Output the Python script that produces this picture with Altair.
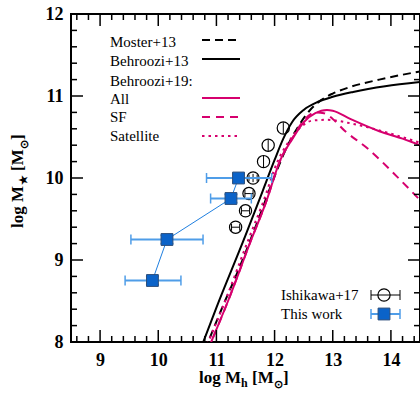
import altair as alt
import pandas as pd

# ---------------- data ----------------
# Behroozi+13 (solid black)
b13_x = [10.72, 11.0, 11.5, 11.8, 12.0, 12.15, 12.3, 12.5, 12.75, 13.0, 13.35, 13.9, 14.5]
b13_y = [7.9, 8.42, 9.3, 9.85, 10.22, 10.48, 10.68, 10.83, 10.93, 10.99, 11.05, 11.12, 11.17]
# Moster+13 (dashed black)
m13_x = [10.8, 11.1, 11.45, 11.75, 12.0, 12.2, 12.4, 12.6, 12.8, 13.0, 13.3, 13.8, 14.5]
m13_y = [7.9, 8.42, 9.0, 9.55, 10.02, 10.36, 10.62, 10.82, 10.95, 11.03, 11.11, 11.2, 11.3]
# Behroozi+19 All (solid magenta)
all_x = [10.85, 11.2, 11.6, 11.85, 12.1, 12.3, 12.5, 12.7, 12.9, 13.0, 13.3, 13.8, 14.2, 14.5]
all_y = [7.9, 8.5, 9.25, 9.7, 10.22, 10.47, 10.68, 10.79, 10.83, 10.82, 10.72, 10.57, 10.48, 10.40]
# Behroozi+19 SF (dashed magenta)
sf_x = [10.85, 11.2, 11.6, 11.85, 12.1, 12.3, 12.5, 12.7, 12.85, 13.0, 13.2, 13.6, 14.1, 14.5]
sf_y = [7.9, 8.5, 9.25, 9.7, 10.22, 10.48, 10.7, 10.8, 10.79, 10.72, 10.58, 10.36, 10.02, 9.73]
# Behroozi+19 Satellite (dotted magenta)
sat_x = [10.8, 11.15, 11.55, 11.8, 12.05, 12.25, 12.45, 12.65, 12.9, 13.35, 13.9, 14.5]
sat_y = [7.9, 8.5, 9.25, 9.7, 10.2, 10.45, 10.62, 10.7, 10.71, 10.66, 10.56, 10.43]

# This work (blue squares)
tw_x = [9.9, 10.15, 11.25, 11.38]
tw_y = [8.75, 9.25, 9.75, 10.0]
tw_xlo = [9.43, 9.53, 10.9, 10.83]
tw_xhi = [10.39, 10.77, 11.6, 11.95]
tw_yerr = [0.05, 0.05, 0.05, 0.05]

# Ishikawa+17 (open circles)
ish_x = [11.33, 11.50, 11.56, 11.63, 11.81, 11.89, 12.15]
ish_y = [9.40, 9.60, 9.81, 10.0, 10.2, 10.4, 10.61]
ish_xerr = [0.07, 0.07, 0.07, 0.07, 0.0, 0.0, 0.0]
ish_yerr = [0.0, 0.0, 0.0, 0.05, 0.07, 0.07, 0.07]

x_major = [9, 10, 11, 12, 13, 14]
y_major = [8, 9, 10, 11, 12]
x_minor = [8.6, 8.8, 9.2, 9.4, 9.6, 9.8, 10.2, 10.4, 10.6, 10.8, 11.2, 11.4, 11.6, 11.8,
           12.2, 12.4, 12.6, 12.8, 13.2, 13.4, 13.6, 13.8, 14.2, 14.4]
y_minor = [8.2, 8.4, 8.6, 8.8, 9.2, 9.4, 9.6, 9.8, 10.2, 10.4, 10.6, 10.8, 11.2, 11.4, 11.6, 11.8]

# ---------------- style ----------------
W, H = 349, 328
FONT = "Liberation Serif"
MAG = "#d6006e"
BLUE = "#0b63c9"
BLUE_ERR = "#4f9de8"

xs = alt.Scale(domain=[8.5, 14.5], nice=False, zero=False)
ys = alt.Scale(domain=[8, 12], nice=False, zero=False)

xaxis = alt.Axis(values=x_major, ticks=False, domain=False, grid=False,
                 labelFont=FONT, labelFontWeight="bold", labelFontSize=18, labelColor="black",
                 labelPadding=9, title="")
yaxis = alt.Axis(values=y_major, ticks=False, domain=False, grid=False,
                 labelFont=FONT, labelFontWeight="bold", labelFontSize=18, labelColor="black",
                 labelPadding=8, title="")

X = lambda f: alt.X(f, scale=xs, axis=xaxis)
Y = lambda f: alt.Y(f, scale=ys, axis=yaxis)


def curve(xv, yv, color, dash=None):
    df = pd.DataFrame({"x": xv, "y": yv})
    kw = dict(color=color, strokeWidth=2, clip=True, interpolate="monotone")
    if dash:
        kw["strokeDash"] = dash
    return alt.Chart(df).mark_line(**kw).encode(x=X("x:Q"), y=Y("y:Q"), order="x:Q")


layers = []
layers.append(curve(b13_x, b13_y, "black"))
layers.append(curve(m13_x, m13_y, "black", dash=[8, 5]))
layers.append(curve(sat_x, sat_y, MAG, dash=[2.5, 4]))
layers.append(curve(sf_x, sf_y, MAG, dash=[8, 6]))
layers.append(curve(all_x, all_y, MAG))


# tick marks (inward, all four sides)
def xticks(vals, length):
    df = pd.DataFrame({"x": vals})
    bottom = alt.Chart(df).mark_rule(color="black", strokeWidth=1.5).encode(
        x=X("x:Q"), y=alt.value(H), y2=alt.value(H - length))
    top = alt.Chart(df).mark_rule(color="black", strokeWidth=1.5).encode(
        x=X("x:Q"), y=alt.value(0), y2=alt.value(length))
    return [bottom, top]


def yticks(vals, length):
    df = pd.DataFrame({"y": vals})
    left = alt.Chart(df).mark_rule(color="black", strokeWidth=1.5).encode(
        y=Y("y:Q"), x=alt.value(0), x2=alt.value(length))
    right = alt.Chart(df).mark_rule(color="black", strokeWidth=1.5).encode(
        y=Y("y:Q"), x=alt.value(W), x2=alt.value(W - length))
    return [left, right]


layers += xticks(x_major, 12) + xticks(x_minor, 6) + yticks(y_major, 12) + yticks(y_minor, 6)

# Ishikawa+17
ish = pd.DataFrame({"x": ish_x, "y": ish_y,
                    "xlo": [a - b for a, b in zip(ish_x, ish_xerr)],
                    "xhi": [a + b for a, b in zip(ish_x, ish_xerr)],
                    "ylo": [a - b for a, b in zip(ish_y, ish_yerr)],
                    "yhi": [a + b for a, b in zip(ish_y, ish_yerr)]})
ishx = ish[ish["xhi"] > ish["xlo"]]
ishy = ish[ish["yhi"] > ish["ylo"]]
layers.append(alt.Chart(ish).mark_point(shape="circle", size=150, filled=False, color="black",
                                        strokeWidth=1.2, opacity=1).encode(x=X("x:Q"), y=Y("y:Q")))
layers.append(alt.Chart(ishx).mark_rule(color="black", strokeWidth=1).encode(x=X("xlo:Q"), x2="xhi:Q", y=Y("y:Q")))
for f in ["xlo:Q", "xhi:Q"]:
    layers.append(alt.Chart(ishx).mark_tick(orient="vertical", size=7, thickness=1, color="black",
                                            opacity=1).encode(x=X(f), y=Y("y:Q")))
layers.append(alt.Chart(ishy).mark_rule(color="black", strokeWidth=1).encode(y=Y("ylo:Q"), y2="yhi:Q", x=X("x:Q")))

# This work
tw = pd.DataFrame({"x": tw_x, "y": tw_y, "xlo": tw_xlo, "xhi": tw_xhi,
                   "ylo": [a - b for a, b in zip(tw_y, tw_yerr)],
                   "yhi": [a + b for a, b in zip(tw_y, tw_yerr)],
                   "o": list(range(len(tw_x)))})
layers.append(alt.Chart(tw).mark_line(color="#1f7fe0", strokeWidth=1).encode(x=X("x:Q"), y=Y("y:Q"), order="o:Q"))
layers.append(alt.Chart(tw).mark_rule(color=BLUE_ERR, strokeWidth=2).encode(x=X("xlo:Q"), x2="xhi:Q", y=Y("y:Q")))
for f in ["xlo:Q", "xhi:Q"]:
    layers.append(alt.Chart(tw).mark_tick(orient="vertical", size=10, thickness=1.5, color=BLUE_ERR,
                                          opacity=1).encode(x=X(f), y=Y("y:Q")))
layers.append(alt.Chart(tw).mark_rule(color=BLUE_ERR, strokeWidth=2).encode(y=Y("ylo:Q"), y2="yhi:Q", x=X("x:Q")))
for f in ["ylo:Q", "yhi:Q"]:
    layers.append(alt.Chart(tw).mark_tick(orient="horizontal", size=13, thickness=1.5, color=BLUE_ERR,
                                          opacity=1).encode(x=X("x:Q"), y=Y(f)))
layers.append(alt.Chart(tw).mark_point(shape="square", size=140, filled=True, fill=BLUE, stroke="#2c4e7a",
                                       strokeWidth=1, opacity=1).encode(x=X("x:Q"), y=Y("y:Q")))

# ---------------- legends & titles ----------------
one = pd.DataFrame({"a": [0]})


def txt(s, px, py, size=15, weight="normal", angle=0, baseline="middle"):
    kw = dict(text=s, font=FONT, fontSize=size, fontWeight=weight, align="left", baseline=baseline,
              color="black")
    if angle:
        kw["angle"] = angle
    return alt.Chart(one).mark_text(**kw).encode(x=alt.value(px), y=alt.value(py))


def seg(px1, px2, py, color, dash=None, width=2):
    kw = dict(color=color, strokeWidth=width)
    if dash:
        kw["strokeDash"] = dash
    return alt.Chart(one).mark_rule(**kw).encode(x=alt.value(px1), x2=alt.value(px2), y=alt.value(py))


def vseg(px, py1, py2, color, width=1):
    return alt.Chart(one).mark_rule(color=color, strokeWidth=width).encode(
        x=alt.value(px), y=alt.value(py1), y2=alt.value(py2))


leg_labels = ["Moster+13", "Behroozi+13", "Behroozi+19:", "All", "SF", "Satellite"]
leg_y = [28, 47, 67, 85, 103, 122]
for s, py in zip(leg_labels, leg_y):
    layers.append(txt(s, 39, py))
layers.append(seg(131, 169, 26, "black", [8, 5]))
layers.append(seg(131, 169, 45, "black"))
layers.append(seg(131, 169, 84, MAG))
layers.append(seg(131, 169, 103, MAG, [8, 6]))
layers.append(seg(131, 169, 122, MAG, [2.5, 4]))

# lower right legend
layers.append(txt("Ishikawa+17", 210, 281))
layers.append(txt("This work", 210, 300))
layers.append(seg(300, 329, 281, "black", width=1))
layers.append(vseg(300, 276, 286, "black"))
layers.append(vseg(329, 276, 286, "black"))
layers.append(alt.Chart(one).mark_point(shape="circle", size=150, filled=False, color="black", strokeWidth=1.2,
                                        opacity=1).encode(x=alt.value(313), y=alt.value(281)))
layers.append(seg(300, 329, 300, BLUE_ERR, width=2))
layers.append(vseg(300, 295, 305, BLUE_ERR, 1.5))
layers.append(vseg(329, 295, 305, BLUE_ERR, 1.5))
layers.append(alt.Chart(one).mark_point(shape="square", size=140, filled=True, fill=BLUE, stroke="#2c4e7a",
                                        strokeWidth=1, opacity=1).encode(x=alt.value(313), y=alt.value(300)))

# x-axis title: log M_h [M_sun]
TB = 369
layers.append(txt("log M", 128, TB, 17, "bold", baseline="alphabetic"))
layers.append(txt("h", 170, TB + 4, 12, "bold", baseline="alphabetic"))
layers.append(txt("[M", 181, TB, 17, "bold", baseline="alphabetic"))
layers.append(txt("⊙", 203, TB + 5, 11, "bold", baseline="alphabetic"))
layers.append(txt("]", 212, TB, 17, "bold", baseline="alphabetic"))

# y-axis title: log M_star [M_sun]
TX = -48
Y0 = 214
layers.append(txt("log M", TX, Y0, 17, "bold", angle=270, baseline="alphabetic"))
layers.append(txt("★", TX + 4, Y0 - 43, 11, "bold", angle=270, baseline="alphabetic"))
layers.append(txt("[M", TX, Y0 - 57, 17, "bold", angle=270, baseline="alphabetic"))
layers.append(txt("⊙", TX + 5, Y0 - 79, 11, "bold", angle=270, baseline="alphabetic"))
layers.append(txt("]", TX, Y0 - 88, 17, "bold", angle=270, baseline="alphabetic"))

chart = alt.layer(*layers).properties(
    width=W, height=H,
    background="white",
    autosize=alt.AutoSizeParams(type="none"),
    padding={"left": 71, "top": 14, "right": 0, "bottom": 52},
).configure_view(stroke="black", strokeWidth=2)

chart.save("out.html", embed_options={"renderer": "svg", "actions": False})
